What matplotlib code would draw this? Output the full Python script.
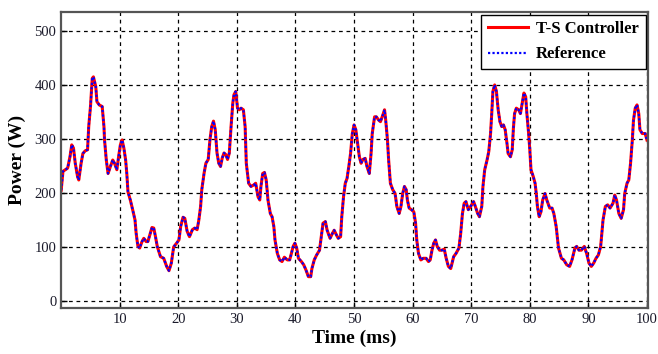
import matplotlib
matplotlib.use('Agg')
import matplotlib.pyplot as plt

plt.rcParams['font.family'] = ['Liberation Serif', 'DejaVu Serif']

# time (ms) and power (W)
time_ms = [0.0, 0.3, 0.7, 1.1, 1.5, 1.8, 2.1, 2.4, 2.8, 3.0, 3.4, 3.7, 4.1, 4.5, 4.7,
           5.0, 5.3, 5.5, 5.9, 6.1, 6.5, 7.0, 7.3, 7.4, 7.7, 8.0, 8.4, 8.8, 9.1, 9.5,
           9.8, 10.1, 10.4, 10.7, 11.0, 11.2, 11.4, 11.8, 12.2, 12.6, 12.8, 13.1, 13.4,
           13.8, 14.1, 14.5, 14.8, 15.2, 15.5, 15.8, 16.1, 16.4, 16.95, 17.5, 18.0,
           18.4, 18.8, 19.2, 19.7, 20.1, 20.4, 20.8, 21.1, 21.5, 21.9, 22.4, 22.8,
           23.2, 23.5, 23.8, 24.0, 24.4, 24.7, 25.1, 25.4, 25.7, 26.0, 26.3, 26.6,
           26.9, 27.2, 27.5, 27.8, 28.1, 28.4, 28.7, 29.0, 29.3, 29.5, 29.8, 30.1,
           30.4, 30.7, 31.1, 31.4, 31.6, 32.0, 32.4, 32.9, 33.2, 33.6, 33.9, 34.1,
           34.4, 34.7, 35.0, 35.3, 35.7, 36.0, 36.3, 36.5, 36.9, 37.3, 37.7, 38.1,
           38.6, 39.0, 39.3, 39.6, 39.9, 40.2, 40.5, 41.0, 41.4, 41.8, 42.2, 42.6,
           42.8, 43.2, 43.6, 44.1, 44.4, 44.7, 45.1, 45.4, 45.9, 46.3, 46.6, 47.0,
           47.3, 47.7, 47.9, 48.2, 48.5, 48.8, 49.1, 49.4, 49.7, 50.0, 50.3, 50.6,
           50.9, 51.2, 51.5, 51.9, 52.2, 52.6, 52.9, 53.1, 53.5, 53.8, 54.2, 54.5,
           54.9, 55.2, 55.4, 55.7, 55.9, 56.2, 56.6, 57.0, 57.3, 57.7, 58.0, 58.3,
           58.6, 58.9, 59.1, 59.4, 59.8, 60.2, 60.5, 60.7, 61.0, 61.4, 61.8, 62.3,
           62.7, 63.0, 63.3, 63.6, 63.9, 64.2, 64.6, 65.0, 65.4, 65.7, 66.1, 66.5,
           67.0, 67.4, 67.9, 68.2, 68.5, 68.8, 69.1, 69.5, 69.9, 70.4, 70.7, 71.1,
           71.4, 71.8, 72.0, 72.3, 72.7, 73.0, 73.3, 73.5, 73.7, 74.0, 74.3, 74.6,
           74.9, 75.2, 75.5, 75.8, 76.1, 76.3, 76.7, 77.0, 77.2, 77.4, 77.7, 78.1,
           78.4, 78.7, 79.0, 79.3, 79.5, 79.8, 80.0, 80.2, 80.6, 80.9, 81.1, 81.3,
           81.6, 81.9, 82.2, 82.6, 82.9, 83.4, 83.8, 84.1, 84.5, 84.9, 85.4, 85.8,
           86.3, 86.8, 87.2, 87.7, 88.0, 88.4, 88.8, 89.3, 89.7, 90.1, 90.5, 90.9,
           91.3, 91.7, 92.1, 92.5, 92.9, 93.3, 93.7, 94.2, 94.5, 94.8, 95.2, 95.6,
           96.0, 96.2, 96.6, 96.9, 97.2, 97.5, 97.7, 98.0, 98.3, 98.6, 98.8, 99.2,
           99.7, 100.0]
power_ref = [205, 240, 243, 246, 267, 289, 283, 255, 230, 224, 255, 273, 278, 280, 323,
             360, 412, 415, 397, 369, 363, 360, 323, 298, 261, 236, 249, 261, 255, 243,
             267, 289, 298, 283, 261, 236, 202, 187, 169, 150, 125, 101, 98,
             110, 116, 110, 110, 125, 136, 135, 119, 101, 82, 79, 64,
             56, 70, 100, 107, 113, 138, 155, 153, 129, 119, 132, 135,
             132, 150, 175, 206, 237, 255, 262, 299, 323, 333, 317, 274,
             255, 249, 265, 274, 271, 262, 274, 323, 367, 382, 388, 357,
             354, 357, 354, 323, 255, 218, 212, 215, 218, 193, 187, 212,
             236, 238, 224, 187, 162, 156, 138, 113, 88, 76, 73, 81,
             76, 76, 88, 101, 107, 98, 79, 73, 67, 57, 45, 45,
             60, 76, 85, 94, 119, 144, 147, 131, 116, 125, 131, 122,
             116, 119, 156, 193, 218, 227, 249, 273, 310, 326, 317, 292,
             267, 255, 262, 264, 249, 236, 273, 310, 341, 341, 335, 332,
             344, 354, 335, 298, 261, 218, 206, 199, 175, 162, 175, 199,
             212, 206, 187, 172, 169, 165, 144, 113, 88, 76, 79, 79,
             73, 76, 94, 107, 113, 101, 94, 94, 96, 80, 64, 60,
             82, 88, 98, 125, 162, 181, 184, 169, 175, 184, 175, 162,
             156, 175, 212, 243, 261, 277, 310, 347, 388, 400, 388, 354,
             332, 323, 326, 317, 292, 273, 267, 280, 320, 347, 357, 354,
             347, 366, 385, 378, 347, 310, 280, 243, 230, 218, 199, 175,
             156, 165, 187, 199, 187, 172, 172, 162, 138, 98, 79, 76,
             67, 64, 76, 98, 101, 94, 94, 101, 88, 70, 64, 70,
             79, 85, 101, 150, 175, 178, 172, 181, 196, 187, 162, 153,
             169, 199, 218, 224, 255, 298, 335, 357, 363, 347, 317, 310,
             310, 298]
# the controller output tracks the reference so closely the two coincide
power_ts = list(power_ref)

fig = plt.figure(figsize=(6.58, 3.54), dpi=100)
ax = fig.add_axes([0.093, 0.130, 0.892, 0.836])

ax.plot(time_ms, power_ts, color='red', lw=2.2, label='T-S Controller')
ax.plot(time_ms, power_ref, color='blue', lw=1.6, ls=(0, (1, 1)), label='Reference')

ax.set_xlim(0, 100.2)
ax.set_ylim(-13, 535)
ax.set_xticks(range(10, 101, 10))
ax.set_yticks(range(0, 501, 100))
ax.grid(True, color='black', ls=(0, (3, 3)), lw=0.9)
ax.tick_params(direction='in', length=4, width=1, labelsize=10.5, labelcolor='#1a1a2a')
for s in ax.spines.values():
    s.set_color('#555555')
    s.set_linewidth(1.6)

ax.set_xlabel('Time (ms)', fontsize=14, fontweight='bold', labelpad=3)
ax.set_ylabel('Power (W)', fontsize=14, fontweight='bold', labelpad=6)

leg = ax.legend(loc='upper right', fancybox=False, framealpha=1, edgecolor='black',
                borderaxespad=0.15, handlelength=2.4, handletextpad=0.5,
                labelspacing=0.55, prop={'weight': 'bold', 'size': 12})
leg.get_frame().set_linewidth(1.0)

fig.savefig('out.png', dpi=100)
